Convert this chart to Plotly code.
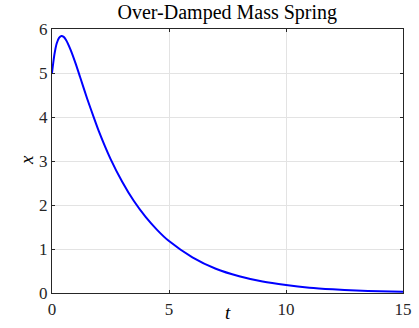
import plotly.graph_objects as go

t_vals = [0, 0.1, 0.2, 0.3, 0.4, 0.5, 0.6, 0.8, 1.0, 1.2, 1.5, 1.8, 2.0, 2.5, 3.0, 3.5,
          4.0, 4.5, 5.0, 6.0, 7.0, 8.0, 9.0, 10.0, 11.0, 12.0, 13.0, 14.0, 15.0]
x_vals = [5.00, 5.41, 5.67, 5.80, 5.84, 5.82, 5.75, 5.52, 5.23, 4.91, 4.42, 3.97, 3.68, 3.05,
          2.53, 2.09, 1.73, 1.43, 1.18, 0.81, 0.55, 0.38, 0.26, 0.18, 0.12, 0.083, 0.056,
          0.039, 0.026]

x_ticks = [0, 5, 10, 15]
y_ticks = [0, 1, 2, 3, 4, 5, 6]

FONT = "Liberation Serif"
AX = "#262626"

fig = go.Figure()
fig.add_trace(go.Scatter(x=t_vals, y=x_vals, mode="lines",
                         line=dict(color="#0000ff", width=2, shape="spline", smoothing=0.6),
                         hoverinfo="skip"))

axis_common = dict(
    showline=True, linecolor=AX, linewidth=1.3, mirror="ticks",
    ticks="inside", ticklen=3, tickcolor=AX, tickwidth=1,
    showgrid=True, gridcolor="#e3e3e3", gridwidth=1,
    zeroline=False, automargin=False,
    tickfont=dict(family=FONT, size=17, color=AX),
)

fig.update_layout(
    width=419, height=328,
    margin=dict(l=52, r=16, t=29, b=35),
    paper_bgcolor="white", plot_bgcolor="white",
    showlegend=False,
    title=dict(text="Over-Damped Mass Spring", x=0.5425, xanchor="center",
               y=0.962, yanchor="middle",
               font=dict(family=FONT, size=20, color="#000000")),
    xaxis=dict(range=[0, 15], tickvals=x_ticks, ticktext=[str(v) for v in x_ticks],
               **axis_common),
    yaxis=dict(range=[0, 6], tickvals=y_ticks, ticktext=[str(v) for v in y_ticks],
               **axis_common),
    annotations=[
        dict(text="<i>t</i>", xref="paper", yref="paper", x=0.5, y=-0.072,
             xanchor="center", yanchor="middle", showarrow=False,
             font=dict(family=FONT, size=19, color="#000000")),
        dict(text="<i>x</i>", xref="paper", yref="paper", x=-0.071, y=0.504,
             xanchor="center", yanchor="middle", showarrow=False, textangle=-90,
             font=dict(family=FONT, size=19, color="#000000")),
    ],
)

fig.write_html("out.html")
